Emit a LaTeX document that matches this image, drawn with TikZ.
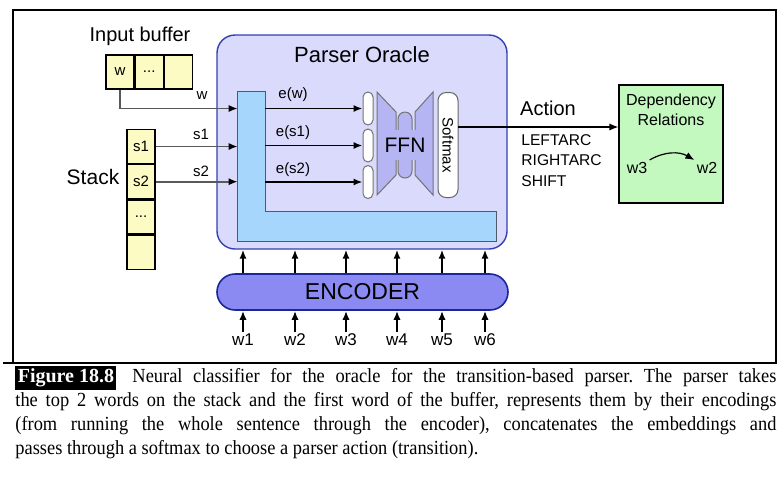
\documentclass[tikz,border=0pt]{standalone}
\usepackage{fontspec}
\setmainfont{Liberation Serif}
\setsansfont{Liberation Sans}
\renewcommand{\familydefault}{\sfdefault}
\newfontfamily\capfont[FakeStretch=0.92]{Liberation Serif}
\usetikzlibrary{arrows.meta,positioning}

\definecolor{oraclefill}{RGB}{218,218,252}
\definecolor{oraclebd}{RGB}{52,64,176}
\definecolor{lfill}{RGB}{166,214,251}
\definecolor{lbd}{RGB}{76,90,106}
\definecolor{cellfill}{RGB}{251,251,195}
\definecolor{ffnfill}{RGB}{181,181,243}
\definecolor{depfill}{RGB}{195,248,191}
\definecolor{encfill}{RGB}{138,138,242}
\definecolor{encbd}{RGB}{28,39,151}

\tikzset{
    cell/.style={draw, fill=cellfill, line width=0.6pt, minimum width=14pt, minimum height=17pt, inner sep=0pt, font=\fontsize{7.5}{9}\selectfont},
    arr/.style={-{Latex[length=4.5pt,width=3.6pt]}, line width=0.9pt},
    arrin/.style={-{Latex[length=4.5pt,width=3.6pt,black]}, draw=black!65, line width=0.8pt},
    inbox/.style={draw=black!55, fill=white, line width=0.5pt, rounded corners=2.5pt, minimum width=5pt, minimum height=16.5pt, inner sep=0pt},
    ffnline/.style={draw=black!55, fill=ffnfill, line width=0.5pt},
    small/.style={font=\fontsize{7.5}{10}\selectfont, inner sep=1pt},
    mid/.style={font=\fontsize{10}{12}\selectfont, inner sep=1pt},
    word/.style={font=\fontsize{8.5}{10}\selectfont, inner sep=1pt},
}

\begin{document}
\begin{tikzpicture}[x=0.5pt, y=-0.5pt, font=\sffamily]
    \useasboundingbox (0,0) rectangle (783,479);

    % Draw the frame round the figure
    \draw[line width=0.7pt] (3,363) -- (776,363) -- (776,10) -- (13,10) -- (13,363);

    % Parser oracle box
    \node[draw=oraclebd, fill=oraclefill, line width=0.7pt, rounded corners=9pt, minimum width=145pt, minimum height=107pt] (oracle) at (362,142) {};
    \node[font=\fontsize{11}{13}\selectfont] (title) at (362,55) {Parser Oracle};

    % Embedding block (L shape)
    \node[minimum width=13.5pt, minimum height=74.5pt, inner sep=0pt] (lbar) at (251.5,166.5) {};
    \node[minimum width=129pt, minimum height=14.5pt, inner sep=0pt] (lbase) at (367,226.5) {};
    \draw[draw=lbd, fill=lfill, line width=0.6pt] (lbar.north west) -- (lbar.north east) -- (lbar.north east |- lbase.north) -- (lbase.north east) -- (lbase.south east) -- (lbar.south west) -- cycle;

    % Input buffer
    \node[mid] (inlabel) at (140,36) {Input buffer};
    \node[cell] (bw) at (120,72) {w};
    \node[cell, right=0pt of bw] (bdots) {...};
    \node[cell, right=0pt of bdots] (bnone) {};

    % Stack
    \node[cell] (s1) at (141,146.5) {s1};
    \node[cell, below=0pt of s1] (s2) {s2};
    \node[cell, below=0pt of s2] (sdots) {...};
    \node[cell, below=0pt of sdots] (snone) {};
    \node[font=\fontsize{10.5}{12}\selectfont] (stack) at (93,177) {Stack};

    % FFN inputs
    \node[inbox] (in1) at (368,108.5) {};
    \node[inbox] (in2) at (368,145.5) {};
    \node[inbox] (in3) at (368,182) {};

    % Arrows into the embedding block
    \draw[arrin] (bw.south) |- (lbar.west |- in1);
    \draw[arrin] (s1.east) -- (s1.east -| lbar.west);
    \draw[arrin] (s2.east) -- (s2.east -| lbar.west);
    \node[small] (lw) at (202,96) {w};
    \node[small] (ls1) at (201,134) {s1};
    \node[small] (ls2) at (201,171) {s2};

    % Embeddings
    \draw[arr] (lbar.east |- in1) -- (in1.west);
    \draw[arr] (lbar.east |- in2) -- (in2.west);
    \draw[arr] (lbar.east |- in3) -- (in3.west);
    \node[small] (ew) at (293,95) {e(w)};
    \node[small] (es1) at (293,133) {e(s1)};
    \node[small] (es2) at (293,170) {e(s2)};

    % FFN
    \draw[ffnline] (377,92) -- (396,112) -- (396,175) -- (377,195) -- cycle;
    \draw[ffnline, rounded corners=3.5pt] (398,112) rectangle (412,178);
    \draw[ffnline] (415,112) -- (433,92) -- (433,195) -- (415,175) -- cycle;
    \node[fill=ffnfill, font=\fontsize{10.5}{12}\selectfont, inner sep=1pt, minimum height=15pt] (ffn) at (405,145) {FFN};

    % Softmax
    \node[draw=black!60, fill=white, line width=0.5pt, rounded corners=4pt, rotate=-90, minimum width=52.5pt, minimum height=10pt, inner sep=0pt, font=\fontsize{7.5}{9}\selectfont] (soft) at (448,145) {Softmax};

    % Action and dependency relations
    \node[draw, fill=depfill, line width=0.6pt, minimum width=52pt, minimum height=59pt] (dep) at (671,144) {};
    \coordinate (out) at (458,127);
    \draw[arr, line width=0.6pt] (out) -- (out -| dep.west);
    \node[mid] (action) at (548,108) {Action};
    \node[small, anchor=west, font=\fontsize{7.8}{10}\selectfont] (leftarc) at (519,140) {LEFTARC};
    \node[small, anchor=west, font=\fontsize{7.8}{10}\selectfont] (rightarc) at (519,160) {RIGHTARC};
    \node[small, anchor=west, font=\fontsize{7.8}{10}\selectfont] (shift) at (519,181) {SHIFT};
    \node[small, align=center, font=\fontsize{8}{10}\selectfont] (deptitle) at (671,110) {Dependency\\Relations};
    \node[small, font=\fontsize{8}{10}\selectfont] (w3) at (637,168) {w3};
    \node[small, font=\fontsize{8}{10}\selectfont] (w2) at (707,168) {w2};
    \draw[arr, line width=0.6pt] (w3.north east) to[bend left=30] (w2.north west);

    % Encoder
    \node[draw=encbd, fill=encfill, line width=0.8pt, rounded corners=9pt, minimum width=145.5pt, minimum height=18pt, font=\fontsize{11.5}{13}\selectfont] (enc) at (362.5,292) {ENCODER};

    % Words and their arrows
    \node[word] (w1) at (243,340) {w1};
    \node[word] (w2b) at (295,340) {w2};
    \node[word] (w3b) at (346,340) {w3};
    \node[word] (w4) at (397,340) {w4};
    \node[word] (w5) at (442,340) {w5};
    \node[word] (w6) at (485,340) {w6};

    \draw[arr] (w1.north) -- (w1 |- enc.south);
    \draw[arr] (w2b.north) -- (w2b |- enc.south);
    \draw[arr] (w3b.north) -- (w3b |- enc.south);
    \draw[arr] (w4.north) -- (w4 |- enc.south);
    \draw[arr] (w5.north) -- (w5 |- enc.south);
    \draw[arr] (w6.north) -- (w6 |- enc.south);

    \draw[arr] (w1 |- enc.north) -- (w1 |- oracle.south);
    \draw[arr] (w2b |- enc.north) -- (w2b |- oracle.south);
    \draw[arr] (w3b |- enc.north) -- (w3b |- oracle.south);
    \draw[arr] (w4 |- enc.north) -- (w4 |- oracle.south);
    \draw[arr] (w5 |- enc.north) -- (w5 |- oracle.south);
    \draw[arr] (w6 |- enc.north) -- (w6 |- oracle.south);

    % Caption
    \node[anchor=north west, text width=380.5pt, align=justify, inner sep=0pt, font=\capfont\fontsize{10}{12}\selectfont\frenchspacing] (caption) at (15,366)
        {{\setlength{\fboxsep}{1.2pt}\colorbox{black}{\textcolor{white}{\rmfamily\bfseries Figure 18.8}}}\hspace{8pt}Neural classifier for the oracle for the transition-based parser. The parser takes\linebreak
        the top 2 words on the stack and the first word of the buffer, represents them by their encodings\linebreak
        (from running the whole sentence through the encoder), concatenates the embeddings and\linebreak
        passes through a softmax to choose a parser action (transition).};

\end{tikzpicture}
\end{document}
